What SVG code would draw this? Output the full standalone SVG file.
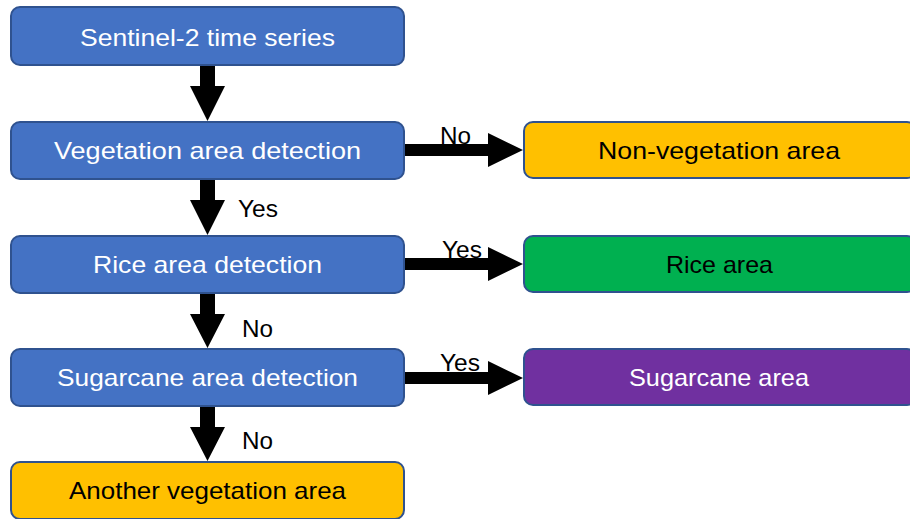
<svg xmlns="http://www.w3.org/2000/svg" width="910" height="519" viewBox="0 0 910 519">
  <style>
    .box { stroke: #2F528F; stroke-width: 2; }
    .blue { fill: #4472C4; }
    .orange { fill: #FFC000; }
    .green { fill: #00B050; }
    .purple { fill: #7030A0; }
    text { font-family: "Liberation Sans", Arial, sans-serif; font-size: 24px; }
    .w { fill: #FFFFFF; }
    .k { fill: #000000; }
    .mid { text-anchor: middle; }
    .arrow { fill: #000000; }
  </style>
  <rect width="910" height="519" fill="#FFFFFF"/>

  <!-- connectors -->
  <g id="connectors">
    <!-- vertical block arrows -->
    <polygon class="arrow" points="200,65 215,65 215,86 225,86 207.5,121 190,86 200,86"/>
    <polygon class="arrow" points="200,179 215,179 215,200 225,200 207.5,235 190,200 200,200"/>
    <polygon class="arrow" points="200,293 215,293 215,314 225,314 207.5,348 190,314 200,314"/>
    <polygon class="arrow" points="200,406 215,406 215,427 225,427 207.5,461 190,427 200,427"/>
    <!-- horizontal block arrows -->
    <polygon class="arrow" points="404,144 488,144 488,133 523,150 488,167 488,156 404,156"/>
    <polygon class="arrow" points="404,258 488,258 488,247 523,264 488,281 488,270 404,270"/>
    <polygon class="arrow" points="404,372 488,372 488,361 523,378 488,395 488,384 404,384"/>
    <!-- labels -->
    <text class="k" x="238" y="217" textLength="40" lengthAdjust="spacingAndGlyphs">Yes</text>
    <text class="k" x="242" y="337" textLength="31" lengthAdjust="spacingAndGlyphs">No</text>
    <text class="k" x="242" y="449" textLength="31" lengthAdjust="spacingAndGlyphs">No</text>
    <text class="k" x="440" y="144" textLength="31" lengthAdjust="spacingAndGlyphs">No</text>
    <text class="k" x="442" y="258" textLength="40" lengthAdjust="spacingAndGlyphs">Yes</text>
    <text class="k" x="440" y="371" textLength="40" lengthAdjust="spacingAndGlyphs">Yes</text>
  </g>

  <g id="sentinel">
    <rect class="box blue" x="11" y="7" width="393" height="58" rx="9"/>
    <text class="w mid" x="207.5" y="46" textLength="255" lengthAdjust="spacingAndGlyphs">Sentinel-2 time series</text>
  </g>
  <g id="vegetation">
    <rect class="box blue" x="11" y="122" width="393" height="57" rx="9"/>
    <text class="w mid" x="207.5" y="159" textLength="307" lengthAdjust="spacingAndGlyphs">Vegetation area detection</text>
  </g>
  <g id="rice-detection">
    <rect class="box blue" x="11" y="236" width="393" height="57" rx="9"/>
    <text class="w mid" x="207.5" y="273" textLength="229" lengthAdjust="spacingAndGlyphs">Rice area detection</text>
  </g>
  <g id="sugarcane-detection">
    <rect class="box blue" x="11" y="349" width="393" height="57" rx="9"/>
    <text class="w mid" x="207.5" y="386" textLength="301" lengthAdjust="spacingAndGlyphs">Sugarcane area detection</text>
  </g>
  <g id="another-vegetation">
    <rect class="box orange" x="11" y="462" width="393" height="57" rx="9"/>
    <text class="k mid" x="207.5" y="499" textLength="277" lengthAdjust="spacingAndGlyphs">Another vegetation area</text>
  </g>
  <g id="non-vegetation">
    <rect class="box orange" x="524" y="122" width="392" height="56" rx="9"/>
    <text class="k mid" x="719" y="159" textLength="242" lengthAdjust="spacingAndGlyphs">Non-vegetation area</text>
  </g>
  <g id="rice-area">
    <rect class="box green" x="524" y="236" width="392" height="56" rx="9"/>
    <text class="k mid" x="719.5" y="273" textLength="107" lengthAdjust="spacingAndGlyphs">Rice area</text>
  </g>
  <g id="sugarcane-area">
    <rect class="box purple" x="524" y="349" width="392" height="56" rx="9"/>
    <text class="w mid" x="719" y="386" textLength="180" lengthAdjust="spacingAndGlyphs">Sugarcane area</text>
  </g>
</svg>
